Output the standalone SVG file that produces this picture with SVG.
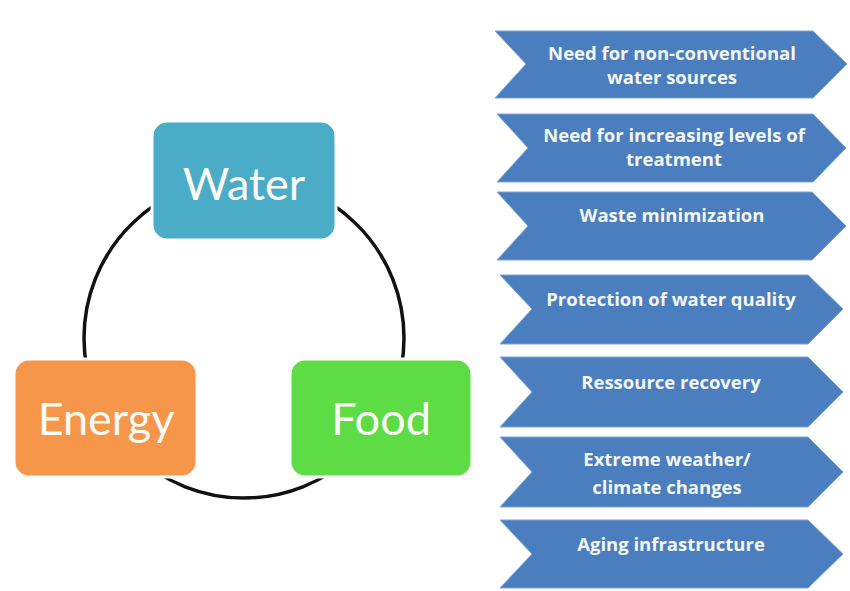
<svg xmlns="http://www.w3.org/2000/svg" width="850" height="591" viewBox="0 0 850 591">
<style>
.box{stroke:#ffffff;stroke-width:3}
.big{font-family:Lato,"Open Sans","Liberation Sans",sans-serif;font-size:45px;fill:#fbfbf5;text-anchor:middle}
.chev{fill:#4a7ebe;stroke:#7fa3d3;stroke-width:1}
.lbl{font-family:"Open Sans",Lato,"Liberation Sans",sans-serif;font-weight:bold;font-size:18.5px;fill:#f4f6f2;text-anchor:middle}
.ring{fill:none;stroke:#111111;stroke-width:3.5}
</style>
<rect width="850" height="591" fill="#ffffff"/>
<g id="connectors">
<circle class="ring" cx="244" cy="338" r="160"/>
</g>
<g id="water">
<rect class="box" x="152" y="121" width="184" height="119" rx="15" fill="#4aacc6"/>
<text class="big" x="244" y="200">Water</text>
</g>
<g id="energy">
<rect class="box" x="14" y="359" width="183" height="118" rx="15" fill="#f6964a"/>
<text class="big" x="106" y="435">Energy</text>
</g>
<g id="food">
<rect class="box" x="290" y="359" width="182" height="118" rx="15" fill="#5edc46"/>
<text class="big" x="381" y="435">Food</text>
</g>
<g id="c1">
<polygon class="chev" points="495,31 813,31 847,64 813,98 495,98 526,64"/>
<text class="lbl" x="672" y="60">Need for non-conventional</text>
<text class="lbl" x="672" y="84">water sources</text>
</g>
<g id="c2">
<polygon class="chev" points="497,114 813,114 846,148 813,182 497,182 528,148"/>
<text class="lbl" x="674" y="142">Need for increasing levels of</text>
<text class="lbl" x="674" y="166">treatment</text>
</g>
<g id="c3">
<polygon class="chev" points="497,192 812,192 846,226 812,260 497,260 528,226"/>
<text class="lbl" x="672" y="222">Waste minimization</text>
</g>
<g id="c4">
<polygon class="chev" points="500,275 808,275 843,309 808,344 500,344 532,309"/>
<text class="lbl" x="671" y="306">Protection of water quality</text>
</g>
<g id="c5">
<polygon class="chev" points="500,357 808,357 843,392 808,427 500,427 532,392"/>
<text class="lbl" x="671" y="389">Ressource recovery</text>
</g>
<g id="c6">
<polygon class="chev" points="500,437 808,437 843,472 808,507 500,507 532,472"/>
<text class="lbl" x="667" y="466">Extreme weather/</text>
<text class="lbl" x="667" y="494">climate changes</text>
</g>
<g id="c7">
<polygon class="chev" points="500,520 808,520 843,554 808,588 500,588 532,554"/>
<text class="lbl" x="671" y="551">Aging infrastructure</text>
</g>
</svg>
